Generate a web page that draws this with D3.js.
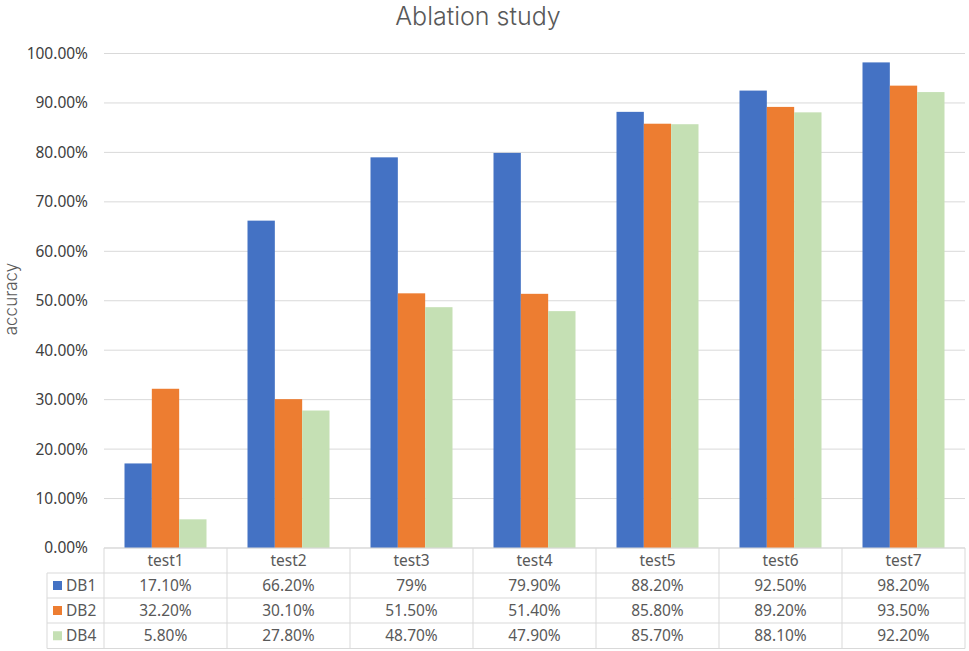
<!DOCTYPE html>
<html><head><meta charset="utf-8">
<script src="https://cdn.jsdelivr.net/npm/d3@7"></script>
<style>body{margin:0;background:#fff}svg{display:block}</style>
</head><body><svg id="c" width="969" height="651"></svg>
<script>
const categories = ["test1","test2","test3","test4","test5","test6","test7"];
const seriesNames = ["DB1","DB2","DB4"];
const db1 = [17.1, 66.2, 79, 79.9, 88.2, 92.5, 98.2];
const db2 = [32.2, 30.1, 51.5, 51.4, 85.8, 89.2, 93.5];
const db4 = [5.8, 27.8, 48.7, 47.9, 85.7, 88.1, 92.2];
const db1Labels = ["17.10%","66.20%","79%","79.90%","88.20%","92.50%","98.20%"];
const db2Labels = ["32.20%","30.10%","51.50%","51.40%","85.80%","89.20%","93.50%"];
const db4Labels = ["5.80%","27.80%","48.70%","47.90%","85.70%","88.10%","92.20%"];
const yTicks = [0,10,20,30,40,50,60,70,80,90,100];
const colors = ["#4472C4","#ED7D31","#C5E0B4"];

const series = [db1, db2, db4];
const labels = [db1Labels, db2Labels, db4Labels];
const svg = d3.select("#c");
const font = "'Noto Sans', sans-serif";
const tfont = "Inter, 'Noto Sans', sans-serif";
const L = 104, R = 965, T = 53.5, B = 548;
const x = d3.scaleBand().domain(categories).range([L, R]).paddingInner(0).paddingOuter(0);
const y = d3.scaleLinear().domain([0,100]).range([B, T]);
const xs = d3.scaleBand().domain(seriesNames).range([0, x.bandwidth()]).paddingOuter(0.75).paddingInner(0);

// gridlines
svg.append("g").selectAll("line").data(yTicks).join("line")
  .attr("x1", L).attr("x2", R).attr("y1", d=>y(d)).attr("y2", d=>y(d))
  .attr("stroke", "#D9D9D9").attr("stroke-width", 1);

// y axis labels
const yAxis = d3.axisLeft(y).tickValues(yTicks).tickFormat(d=>d3.format(".2f")(d)+"%").tickSize(0).tickPadding(16);
const ga = svg.append("g").attr("transform", `translate(${L},0)`).call(yAxis);
ga.select(".domain").remove();
ga.selectAll("text").attr("font-family", font).attr("font-size", 15.5).attr("fill", "#404040");

// bars
seriesNames.forEach((s, si) => {
  svg.append("g").selectAll("rect").data(series[si]).join("rect")
    .attr("x", (d,i)=>x(categories[i]) + xs(s))
    .attr("width", xs.bandwidth())
    .attr("y", d=>y(d)).attr("height", d=>B - y(d))
    .attr("fill", colors[si]);
});

// title
svg.append("text").attr("x", 478).attr("y", 25).attr("text-anchor","middle")
  .attr("font-family", tfont).attr("font-size", 25).attr("font-weight", 300).attr("fill", "#595959").text("Ablation study");
// axis title
svg.append("text").attr("transform", "translate(16.5,299) rotate(-90)").attr("text-anchor","middle")
  .attr("font-family", tfont).attr("font-size", 17).attr("font-weight", 300).attr("fill", "#595959").text("accuracy");

// data table
const rowH = [548, 573, 598, 623, 648.5];
const legL = 47;
const tg = svg.append("g");
const lc = "#D9D9D9";
tg.append("line").attr("x1", L).attr("x2", R).attr("y1", rowH[0]).attr("y2", rowH[0]).attr("stroke", lc);
rowH.slice(1).forEach(yy => tg.append("line").attr("x1", legL).attr("x2", R).attr("y1", yy).attr("y2", yy).attr("stroke", lc));
tg.append("line").attr("x1", legL).attr("x2", legL).attr("y1", rowH[1]).attr("y2", rowH[4]).attr("stroke", lc);
categories.forEach(c => tg.append("line").attr("x1", x(c)).attr("x2", x(c)).attr("y1", rowH[0]).attr("y2", rowH[4]).attr("stroke", lc));
tg.append("line").attr("x1", R).attr("x2", R).attr("y1", rowH[0]).attr("y2", rowH[4]).attr("stroke", lc);
tg.selectAll("text.h").data(categories).join("text").attr("class","h")
  .attr("x", d=>x(d)+x.bandwidth()/2).attr("y", (rowH[0]+rowH[1])/2).attr("dy","0.35em")
  .attr("text-anchor","middle").attr("font-family", font).attr("font-size", 15.5).attr("fill", "#595959").text(d=>d);
seriesNames.forEach((s, si) => {
  const cy = (rowH[si+1]+rowH[si+2])/2;
  tg.append("rect").attr("x", 53).attr("y", cy-4.5).attr("width", 9).attr("height", 9).attr("fill", colors[si]);
  tg.append("text").attr("x", 66).attr("y", cy).attr("dy","0.35em").attr("font-family", font).attr("font-size", 15.5).attr("fill","#595959").text(s);
  tg.selectAll(null).data(labels[si]).join("text")
    .attr("x", (d,i)=>x(categories[i])+x.bandwidth()/2).attr("y", cy).attr("dy","0.35em")
    .attr("text-anchor","middle").attr("font-family", font).attr("font-size", 15.5).attr("fill", "#595959").text(d=>d);
});
</script></body></html>
